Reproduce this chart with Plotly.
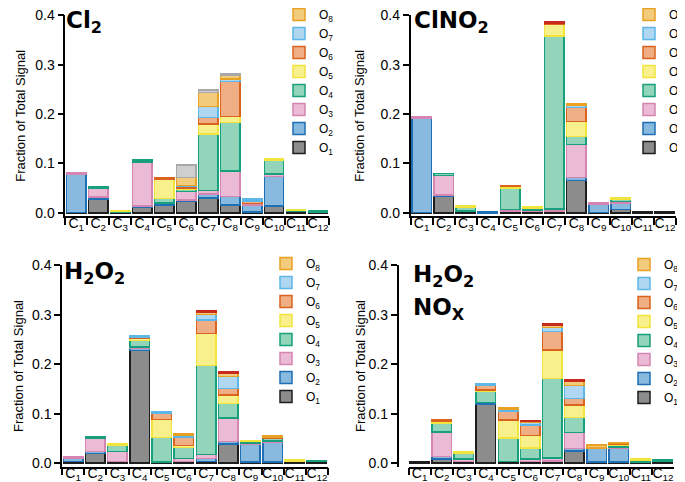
import plotly.graph_objects as go

W, H = 685, 482

categories = ["C<sub>%d</sub>" % i for i in range(1, 13)]
series_names = ["O<sub>%d</sub>" % i for i in range(1, 9)]
ytick_vals = [0.0, 0.1, 0.2, 0.3, 0.4]
ytick_text = ["0.0", "0.1", "0.2", "0.3", "0.4"]

# ---- Cl2 ----
cl2_O1 = [0.001, 0.028, 0.002, 0.011, 0.016, 0.023, 0.030, 0.016, 0.002, 0.014, 0.003, 0.002]
cl2_O2 = [0.077, 0.004, 0.0, 0.003, 0.003, 0.003, 0.008, 0.017, 0.014, 0.060, 0.0, 0.0]
cl2_O3 = [0.003, 0.018, 0.0, 0.089, 0.001, 0.017, 0.007, 0.052, 0.003, 0.005, 0.0, 0.0]
cl2_O4 = [0.0, 0.003, 0.002, 0.004, 0.009, 0.004, 0.115, 0.098, 0.0, 0.028, 0.002, 0.002]
cl2_O5 = [0.0, 0.0, 0.001, 0.0, 0.039, 0.003, 0.020, 0.012, 0.0, 0.003, 0.002, 0.0]
cl2_O6 = [0.0, 0.0, 0.0, 0.0, 0.003, 0.003, 0.0135, 0.071, 0.005, 0.0, 0.0, 0.0]
cl2_O7 = [0.0, 0.0, 0.0, 0.0, 0.0, 0.002, 0.022, 0.005, 0.004, 0.0, 0.0, 0.0]
cl2_O8 = [0.0, 0.0, 0.0, 0.0, 0.0, 0.017, 0.028, 0.008, 0.0, 0.0, 0.0, 0.0]
cl2_other = [0.0, 0.0, 0.0, 0.0, 0.0, 0.025, 0.005, 0.003, 0.0, 0.0, 0.0, 0.0]

# ---- ClNO2 ----
clno2_O1 = [0.001, 0.033, 0.004, 0.0, 0.004, 0.004, 0.003, 0.065, 0.001, 0.007, 0.002, 0.002]
clno2_O2 = [0.190, 0.003, 0.0, 0.003, 0.0, 0.0, 0.001, 0.007, 0.016, 0.013, 0.0, 0.0]
clno2_O3 = [0.003, 0.040, 0.0, 0.0, 0.003, 0.002, 0.004, 0.066, 0.003, 0.003, 0.0, 0.0]
clno2_O4 = [0.0, 0.004, 0.007, 0.0, 0.043, 0.004, 0.350, 0.017, 0.0, 0.005, 0.0, 0.0]
clno2_O5 = [0.0, 0.0, 0.003, 0.0, 0.003, 0.002, 0.024, 0.030, 0.0, 0.003, 0.0, 0.0]
clno2_O6 = [0.0, 0.0, 0.0, 0.0, 0.002, 0.0, 0.002, 0.028, 0.0, 0.0, 0.0, 0.0]
clno2_O7 = [0.0, 0.0, 0.0, 0.0, 0.0, 0.0, 0.0, 0.005, 0.0, 0.0, 0.0, 0.0]
clno2_O8 = [0.0, 0.0, 0.0, 0.0, 0.0, 0.0, 0.0, 0.003, 0.0, 0.0, 0.0, 0.0]
clno2_other = [0.0, 0.0, 0.0, 0.0, 0.0, 0.0, 0.002, 0.0, 0.0, 0.0, 0.0, 0.0]

# ---- H2O2 ----
h2o2_O1 = [0.004, 0.020, 0.003, 0.228, 0.002, 0.003, 0.004, 0.039, 0.002, 0.002, 0.003, 0.003]
h2o2_O2 = [0.007, 0.004, 0.0, 0.004, 0.0, 0.0, 0.006, 0.005, 0.036, 0.040, 0.0, 0.0]
h2o2_O3 = [0.003, 0.027, 0.021, 0.003, 0.0, 0.007, 0.008, 0.047, 0.003, 0.003, 0.0, 0.0]
h2o2_O4 = [0.0, 0.003, 0.013, 0.013, 0.050, 0.022, 0.179, 0.030, 0.003, 0.005, 0.002, 0.002]
h2o2_O5 = [0.0, 0.0, 0.003, 0.004, 0.036, 0.004, 0.065, 0.017, 0.002, 0.0, 0.002, 0.0]
h2o2_O6 = [0.0, 0.0, 0.0, 0.003, 0.013, 0.017, 0.027, 0.013, 0.0, 0.003, 0.0, 0.0]
h2o2_O7 = [0.0, 0.0, 0.0, 0.002, 0.003, 0.004, 0.012, 0.024, 0.0, 0.0, 0.0, 0.0]
h2o2_O8 = [0.0, 0.0, 0.0, 0.0, 0.0, 0.003, 0.005, 0.007, 0.0, 0.003, 0.0, 0.0]
h2o2_other = [0.0, 0.0, 0.0, 0.0, 0.0, 0.0, 0.003, 0.003, 0.0, 0.0, 0.0, 0.0]

# ---- H2O2 + NOx ----
nox_O1 = [0.002, 0.009, 0.003, 0.120, 0.003, 0.003, 0.003, 0.025, 0.002, 0.002, 0.002, 0.003]
nox_O2 = [0.0, 0.005, 0.0, 0.003, 0.0, 0.0, 0.002, 0.005, 0.029, 0.028, 0.0, 0.0]
nox_O3 = [0.0, 0.049, 0.006, 0.0, 0.0, 0.006, 0.006, 0.032, 0.0, 0.003, 0.0, 0.002]
nox_O4 = [0.0, 0.018, 0.011, 0.022, 0.048, 0.022, 0.160, 0.030, 0.0, 0.003, 0.004, 0.003]
nox_O5 = [0.0, 0.003, 0.003, 0.003, 0.036, 0.025, 0.058, 0.026, 0.0, 0.002, 0.003, 0.0]
nox_O6 = [0.0, 0.003, 0.0, 0.010, 0.019, 0.021, 0.037, 0.013, 0.0, 0.002, 0.0, 0.0]
nox_O7 = [0.0, 0.0, 0.0, 0.003, 0.003, 0.005, 0.008, 0.026, 0.0, 0.0, 0.0, 0.0]
nox_O8 = [0.0, 0.0, 0.0, 0.0, 0.003, 0.002, 0.004, 0.008, 0.006, 0.002, 0.0, 0.0]
nox_other = [0.0, 0.0, 0.0, 0.0, 0.0, 0.002, 0.003, 0.003, 0.0, 0.0, 0.0, 0.0]

fills = ["#8c8c8c", "#88b9de", "#ebbad4", "#92d5bb", "#f8f08c", "#efae84", "#afd7f1", "#f3cb7c"]
edges = ["#1e1e1e", "#1f6fb4", "#d585b1", "#17a07b", "#f1e43c", "#da641e", "#5cb6e7", "#e9a124"]

FONT = "Arial, 'Liberation Sans', sans-serif"
BOLD = "'DejaVu Sans', Arial, sans-serif"

panels = [
    dict(series=[cl2_O1, cl2_O2, cl2_O3, cl2_O4, cl2_O5, cl2_O6, cl2_O7, cl2_O8], other=cl2_other,
         other_fill="#cfcfcf", other_edge="#a8a8a8",
         xdom=(57.3, 321), yaxis_x=None, ytop=7.3, ybot=208.3,
         labels=[("Cl<sub>2</sub>", 56, 14)], ytitle_x=13, legend_xy=(271, -8)),
    dict(series=[clno2_O1, clno2_O2, clno2_O3, clno2_O4, clno2_O5, clno2_O6, clno2_O7, clno2_O8], other=clno2_other,
         other_fill="#e04030", other_edge="#c82a1c",
         xdom=(402.5, 668), yaxis_x=None, ytop=7.3, ybot=208.3,
         labels=[("ClNO<sub>2</sub>", 404, 14)], ytitle_x=352, legend_xy=(621, -8)),
    dict(series=[h2o2_O1, h2o2_O2, h2o2_O3, h2o2_O4, h2o2_O5, h2o2_O6, h2o2_O7, h2o2_O8], other=h2o2_other,
         other_fill="#e04030", other_edge="#c82a1c",
         xdom=(54, 320), yaxis_x=None, ytop=257.3, ybot=458.7,
         labels=[("H<sub>2</sub>O<sub>2</sub>", 54, 265)], ytitle_x=10, legend_xy=(258, 241)),
    dict(series=[nox_O1, nox_O2, nox_O3, nox_O4, nox_O5, nox_O6, nox_O7, nox_O8], other=nox_other,
         other_fill="#e04030", other_edge="#c82a1c",
         xdom=(400.5, 666), yaxis_x=389.5, ytop=257.3, ybot=458.7,
         labels=[("H<sub>2</sub>O<sub>2</sub>", 403, 268), ("NO<sub>X</sub>", 403, 301)],
         ytitle_x=352, legend_xy=(616, 242)),
]


def nz(vals):
    return [v if v > 0 else None for v in vals]


fig = go.Figure()
layout = dict(
    width=W, height=H,
    margin=dict(l=0, r=0, t=0, b=0, autoexpand=False),
    paper_bgcolor="white", plot_bgcolor="rgba(0,0,0,0)",
    barmode="stack", bargap=0.12,
    font=dict(family=FONT, size=14, color="black"),
    showlegend=True,
)
annotations = []

for i, p in enumerate(panels, start=1):
    xa = "x" if i == 1 else "x%d" % i
    ya = "y" if i == 1 else "y%d" % i
    lg = "legend" if i == 1 else "legend%d" % i
    for k, vals in enumerate(p["series"]):
        fig.add_trace(go.Bar(
            x=categories, y=nz(vals), xaxis=xa, yaxis=ya,
            name=series_names[k], legend=lg, legendrank=100 - k,
            marker=dict(color=fills[k], line=dict(color=edges[k], width=1.5)),
            hoverinfo="skip",
        ))
    fig.add_trace(go.Bar(
        x=categories, y=nz(p["other"]), xaxis=xa, yaxis=ya,
        name="other", showlegend=False, legend=lg,
        marker=dict(color=p["other_fill"], line=dict(color=p["other_edge"], width=1.5)),
        hoverinfo="skip",
    ))
    x0, x1 = p["xdom"]
    layout["xaxis" if i == 1 else "xaxis%d" % i] = dict(
        domain=[x0 / W, x1 / W], anchor=ya, type="category",
        categoryorder="array", categoryarray=categories, range=[-0.5, 11.5],
        tickson="boundaries", ticks="outside", ticklen=7, tickwidth=1.5, tickcolor="black",
        showline=True, linecolor="black", linewidth=1.5, showgrid=False, zeroline=False,
        tickangle=0, ticklabeloverflow="allow", ticklabelstandoff=-7,
        tickfont=dict(size=14, family=FONT, color="black"),
    )
    yax = dict(
        domain=[1 - p["ybot"] / H, 1 - p["ytop"] / H],
        range=[-0.007, 0.4], tickvals=ytick_vals, ticktext=ytick_text,
        ticks="outside", ticklen=6, tickwidth=1.5, tickcolor="black",
        showline=True, linecolor="black", linewidth=1.5, showgrid=False, zeroline=False,
        ticklabeloverflow="allow",
        tickfont=dict(size=14, family=FONT, color="black"),
    )
    if p["yaxis_x"] is None:
        yax["anchor"] = xa
    else:
        yax["anchor"] = "free"
        yax["position"] = p["yaxis_x"] / W
    layout["yaxis" if i == 1 else "yaxis%d" % i] = yax
    lx, ly = p["legend_xy"]
    layout[lg] = dict(
        x=lx / W, y=1 - ly / H, xanchor="left", yanchor="top",
        traceorder="normal",
        bgcolor="rgba(0,0,0,0)", borderwidth=0,
        font=dict(size=12, family=FONT, color="black"),
        itemwidth=30,
    )
    for text, tx, ty in p["labels"]:
        annotations.append(dict(
            text="<b>%s</b>" % text, x=tx / W, y=1 - ty / H, xref="paper", yref="paper",
            xanchor="left", yanchor="middle", showarrow=False,
            font=dict(size=23, family=BOLD, color="black"),
        ))
    yc = (p["ytop"] + p["ybot"]) / 2
    annotations.append(dict(
        text="Fraction of Total Signal", x=p["ytitle_x"] / W, y=1 - yc / H,
        xref="paper", yref="paper", xanchor="center", yanchor="middle",
        textangle=-90, showarrow=False, font=dict(size=13, family=FONT, color="black"),
    ))

layout["annotations"] = annotations
fig.update_layout(**layout)
fig.write_html("out.html")
